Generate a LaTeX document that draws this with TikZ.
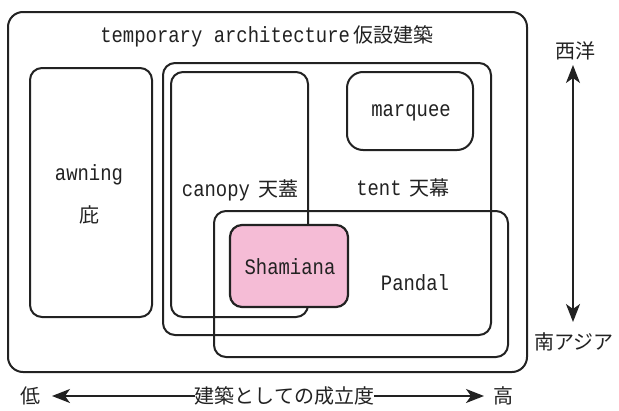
\documentclass[tikz,border=0pt]{standalone}
\usepackage{fontspec}
\setmainfont{Noto Sans CJK JP}
\newfontfamily\monofont[FakeStretch=0.86]{Liberation Mono}
\usetikzlibrary{arrows.meta}
\definecolor{ink}{HTML}{222222}
\definecolor{pinkfill}{HTML}{F5BCD6}
\tikzset{
  box/.style={draw=ink, line width=2pt, rounded corners=12pt, rectangle, inner sep=0pt},
  lbl/.style={inner sep=0pt, text=ink, font=\fontsize{22}{24}\selectfont},
  cjk/.style={inner sep=0pt, text=ink, font=\fontsize{20}{22}\selectfont},
  axis/.style={draw=ink, line width=1.5pt, -{Stealth[length=18pt, width=14pt, inset=5pt]}},
}
\begin{document}
\begin{tikzpicture}[x=1pt, y=-1pt]
\useasboundingbox (0,0) rectangle (619,410);
\fill[white] (0,0) rectangle (619,410);

\node[box, rounded corners=15pt, minimum width=519pt, minimum height=360pt] (outer) at (267.5,192) {};
\node[box, minimum width=122pt, minimum height=249pt] (awning) at (91,192.5) {};
\node[box, minimum width=328pt, minimum height=272pt] (tent) at (327,199) {};
\node[box, minimum width=137pt, minimum height=245pt] (canopy) at (239.5,194.5) {};
\node[box, rounded corners=16pt, minimum width=126pt, minimum height=78pt] (marquee) at (410,111) {};
\node[box, minimum width=294pt, minimum height=146pt] (pandal) at (361,284) {};
\node[box, fill=pinkfill, line width=2.2pt, minimum width=118pt, minimum height=82pt] (shamiana) at (289,266) {};

\node[lbl] (title) at (267,36) {{\monofont temporary architecture}\,\fontsize{20}{22}\selectfont 仮設建築};
\node[lbl] (awningt) at (89,175) {\monofont awning};
\node[cjk] (hisashi) at (89,215) {庇};
\node[lbl] (canopyt) at (240,190) {{\monofont canopy}\hspace{8pt}\fontsize{20}{22}\selectfont 天蓋};
\node[lbl] (tentt) at (403,188) {{\monofont tent}\hspace{8pt}\fontsize{20}{22}\selectfont 天幕};
\node[lbl] (marqueet) at (411,113) {\monofont marquee};
\node[lbl] (shamianat) at (290,267) {\monofont Shamiana};
\node[lbl] (pandalt) at (415,283) {\monofont Pandal};

\node[cjk] (west) at (575,51) {西洋};
\node[cjk] (southasia) at (574,342) {南アジア};
\coordinate (uptip) at (573,65);
\coordinate (downtip) at (573,322);
\draw[axis, {Stealth[length=18pt, width=14pt, inset=5pt]}-{Stealth[length=18pt, width=14pt, inset=5pt]}] (uptip) -- (downtip);

\node[cjk] (low) at (30,396) {低};
\node[cjk] (high) at (503,396) {高};
\node[cjk] (degree) at (284.5,396) {建築としての成立度};
\coordinate (lefttip) at (52,396);
\coordinate (righttip) at (484,396);
\draw[axis] (degree.west) -- (lefttip);
\draw[axis] (degree.east) -- (righttip);
\end{tikzpicture}
\end{document}
